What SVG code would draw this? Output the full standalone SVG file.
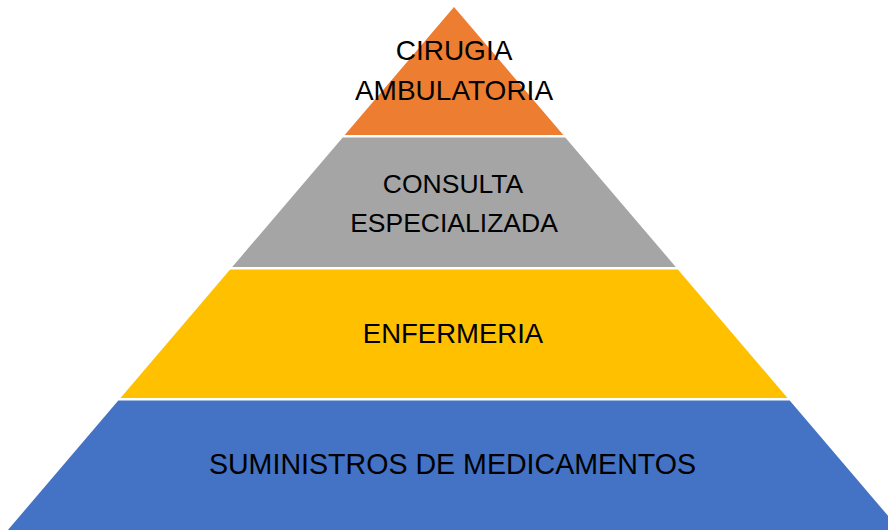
<svg xmlns="http://www.w3.org/2000/svg" width="888" height="530" viewBox="0 0 888 530">
  <style>
    .lbl { font-family: "Liberation Sans", Arial, sans-serif; font-size: 28px; fill: #000; text-anchor: middle; }
  </style>
  <rect width="888" height="530" fill="#fff"/>
  <g id="level-cirugia">
    <polygon points="454,7 563.3,135 344.7,135" fill="#ED7D31"/>
    <text class="lbl" x="454" y="60">CIRUGIA</text>
    <text class="lbl" x="454" y="100">AMBULATORIA</text>
  </g>
  <g id="level-consulta">
    <polygon points="342.7,137.5 565.3,137.5 675.8,267 232.2,267" fill="#A5A5A5"/>
    <text class="lbl" x="453" y="193" style="font-size:26.5px">CONSULTA</text>
    <text class="lbl" x="454" y="232" style="font-size:26.5px">ESPECIALIZADA</text>
  </g>
  <g id="level-enfermeria">
    <polygon points="230.1,269.5 677.9,269.5 787.5,398 120.5,398" fill="#FFC000"/>
    <text class="lbl" x="453" y="343" style="font-size:27.5px">ENFERMERIA</text>
  </g>
  <g id="level-suministros">
    <polygon points="118.3,400.5 789.7,400.5 900.1,530 7.9,530" fill="#4472C4"/>
    <text class="lbl" x="452.5" y="474" style="font-size:28.6px">SUMINISTROS DE MEDICAMENTOS</text>
  </g>
  <g id="connectors"/>
</svg>
